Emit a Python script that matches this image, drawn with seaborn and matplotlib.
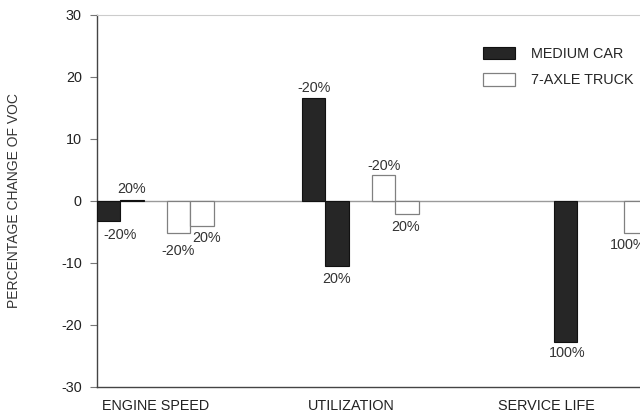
import numpy as np
import pandas as pd
import matplotlib
matplotlib.use("Agg")
import matplotlib.pyplot as plt
from matplotlib.patches import Patch
import seaborn as sns

# ---- data ----
categories = ["ENGINE SPEED", "UTILIZATION", "SERVICE LIFE"]
car_values = [-3.3, 0.2, 16.6, -10.5, -22.7]
car_labels = ["-20%", "20%", "-20%", "20%", "100%"]
car_slots = [0, 1, 0, 1, 0]          # slot within group
car_group = [0, 0, 1, 1, 2]
truck_values = [-5.2, -4.1, 4.2, -2.1, -5.2]
truck_labels = ["-20%", "20%", "-20%", "20%", "100%"]
truck_slots = [3, 4, 3, 4, 3]
truck_group = [0, 0, 1, 1, 2]

# ---- layout ----
group_start = [0.0, 8.8, 19.6]
tick_pos = [2.5, 10.9, 19.3]

def centers(groups, slots):
    return [round(group_start[g] + s + 0.5, 3) for g, s in zip(groups, slots)]

car_df = pd.DataFrame({"x": centers(car_group, car_slots), "value": car_values,
                       "label": car_labels})
truck_df = pd.DataFrame({"x": centers(truck_group, truck_slots), "value": truck_values,
                         "label": truck_labels})

sns.set_theme(style="white")
plt.rcParams["font.family"] = ["Liberation Sans", "DejaVu Sans"]
plt.rcParams["axes.unicode_minus"] = False

FS = 10.4
fig = plt.figure(figsize=(6.4, 4.13), dpi=100)
ax = fig.add_axes([97 / 640, 1 - 387 / 413, 26 * 23.3 / 640, 372 / 413])

ax.axhline(0, color="#9a9a9a", lw=1.0, zorder=1)

sns.barplot(data=car_df, x="x", y="value", native_scale=True, width=1.0,
            color="#262626", edgecolor="#111111", linewidth=0.8, saturation=1,
            errorbar=None, ax=ax, zorder=3)
sns.barplot(data=truck_df, x="x", y="value", native_scale=True, width=1.0,
            color="white", edgecolor="#808080", linewidth=0.9, saturation=1,
            errorbar=None, ax=ax, zorder=3)

# value labels (offsets in points)
car_off = [(8, -9.5), (0, 8), (0, 7.2), (0, -9.5), (1.5, -8)]
truck_off = [(0, -13), (3.2, -8), (0, 6.5), (-0.7, -9.4), (-5, -8.6)]
for df, offs in ((car_df, car_off), (truck_df, truck_off)):
    for (x, v, lab), (dx, dy) in zip(df[["x", "value", "label"]].values, offs):
        ax.annotate(lab, (x, v), xytext=(dx, dy), textcoords="offset points",
                    ha="center", va="center", fontsize=FS, color="#333333",
                    annotation_clip=False)

ax.set_xlim(0, 26)
ax.set_ylim(-30, 30)
ax.set_yticks(np.arange(-30, 31, 10))
ax.set_xticks(tick_pos)
ax.set_xticklabels(categories, fontsize=FS, color="#222222")
ax.tick_params(axis="x", length=0, pad=9)
ax.tick_params(axis="y", length=5, width=0.8, color="#777777", left=True,
               labelsize=FS, labelcolor="#222222", pad=6)
ax.set_xlabel("")
ax.set_ylabel("PERCENTAGE CHANGE OF VOC", fontsize=10, color="#333333", labelpad=29)

for side in ("left", "bottom"):
    ax.spines[side].set_color("#444444")
    ax.spines[side].set_linewidth(1.0)
ax.spines["top"].set_color("#cccccc")
ax.spines["top"].set_linewidth(0.8)
ax.spines["right"].set_visible(False)

handles = [Patch(facecolor="#262626", edgecolor="#111111", lw=0.8),
           Patch(facecolor="white", edgecolor="#808080", lw=0.9)]
ax.legend(handles, ["MEDIUM CAR", "7-AXLE TRUCK"], loc="upper left",
          bbox_to_anchor=(0.637, 0.915), frameon=False, fontsize=FS,
          handlelength=2.2, handleheight=0.95, labelspacing=0.85, handletextpad=1.15,
          borderaxespad=0, borderpad=0)

fig.savefig("out.png", dpi=100)
